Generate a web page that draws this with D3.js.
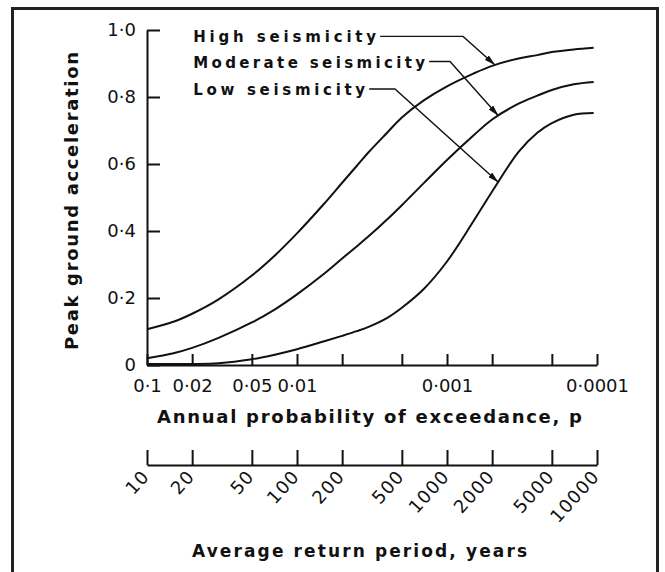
<!DOCTYPE html>
<html>
<head>
<meta charset="utf-8">
<script src="https://cdn.jsdelivr.net/npm/d3@7"></script>
<style>
  body { margin: 0; background: #fff; }
  svg text { font-family: "DejaVu Sans", sans-serif; fill: #111; }
</style>
</head>
<body>
<div id="chart"></div>
<script>
// return periods (years) at which the curves were read
const returnPeriods = [10, 15, 20, 30, 50, 70, 100, 150, 200, 250, 300, 400, 500, 700, 1000, 1500, 2000, 3000, 4000, 5000, 7000, 9500];
const highPGA     = [0.107, 0.129, 0.153, 0.196, 0.267, 0.324, 0.393, 0.479, 0.544, 0.594, 0.635, 0.694, 0.739, 0.790, 0.832, 0.870, 0.893, 0.915, 0.925, 0.934, 0.942, 0.947];
const moderatePGA = [0.020, 0.035, 0.051, 0.081, 0.127, 0.164, 0.211, 0.271, 0.318, 0.354, 0.384, 0.435, 0.477, 0.543, 0.612, 0.685, 0.733, 0.780, 0.804, 0.821, 0.838, 0.845];
const lowPGA      = [0.003, 0.003, 0.003, 0.005, 0.017, 0.030, 0.047, 0.070, 0.087, 0.101, 0.114, 0.141, 0.171, 0.227, 0.309, 0.429, 0.518, 0.636, 0.693, 0.722, 0.747, 0.752];

// axis ticks
const pgaTicks = [0, 0.2, 0.4, 0.6, 0.8, 1.0];
const periodTicks = [10, 20, 50, 100, 200, 500, 1000, 2000, 5000, 10000];
const probLabels = {10: "0·1", 20: "0·02", 50: "0·05", 100: "0·01", 1000: "0·001", 10000: "0·0001"};

// labels and their leader lines
const seriesNames = ["High seismicity", "Moderate seismicity", "Low seismicity"];
const labelLevel  = [0.963, 0.888, 0.806];
const elbowPeriod = [1280, 1047, 450];
const tipPeriod   = [2090, 2200, 2200];

const width = 665;
const height = 572;

const svg = d3.select("#chart").append("svg")
    .attr("width", width)
    .attr("height", height);

const x = d3.scaleLog().domain([10, 10000]).range([147, 597]);
const y = d3.scaleLinear().domain([0, 1]).range([365, 30]);

// frame
svg.append("rect")
    .attr("x", 12.5).attr("y", 8.5)
    .attr("width", 645).attr("height", 580)
    .attr("fill", "none")
    .attr("stroke", "#222")
    .attr("stroke-width", 3);

svg.append("defs").append("marker")
    .attr("id", "arrow")
    .attr("markerUnits", "userSpaceOnUse")
    .attr("viewBox", "0 0 11 6")
    .attr("refX", 11).attr("refY", 3)
    .attr("markerWidth", 11).attr("markerHeight", 6)
    .attr("orient", "auto")
    .append("path")
    .attr("d", "M0,0L11,3L0,6Z")
    .attr("fill", "#111");

const fmt = d => d === 0 ? "0" : d3.format(".1f")(d).replace(".", "·");

// y axis
const yAxis = svg.append("g")
    .attr("transform", `translate(${x(10)},0)`)
    .call(d3.axisLeft(y).tickValues(pgaTicks).tickSizeInner(-13).tickSizeOuter(0)
        .tickPadding(11).tickFormat(fmt));

// probability axis
const pAxis = svg.append("g")
    .attr("transform", `translate(0,${y(0)})`)
    .call(d3.axisBottom(x).tickValues(periodTicks).tickSizeInner(-11).tickSizeOuter(0)
        .tickPadding(14).tickFormat(d => probLabels[d] || ""));

// return period axis
const tAxis = svg.append("g")
    .attr("transform", "translate(0,465)")
    .call(d3.axisBottom(x).tickValues(periodTicks).tickSizeInner(-15).tickSizeOuter(0)
        .tickFormat(d => String(d)));

[yAxis, pAxis, tAxis].forEach(g => {
    g.selectAll("path, line").attr("stroke", "#111").attr("stroke-width", 2);
    g.selectAll("text").attr("font-size", 18).attr("font-family", "DejaVu Sans").attr("fill", "#111");
});

tAxis.selectAll(".tick text")
    .attr("text-anchor", "end")
    .attr("dy", null)
    .attr("y", null)
    .attr("letter-spacing", 1.2)
    .attr("transform", "translate(3,12) rotate(-48)");

// curves
const line = d3.line()
    .x(d => x(d[0]))
    .y(d => y(d[1]))
    .curve(d3.curveCatmullRom.alpha(0.5));

const seriesValues = [highPGA, moderatePGA, lowPGA];

svg.append("g").selectAll("path")
    .data(seriesValues)
    .enter().append("path")
    .attr("d", vals => line(returnPeriods.map((t, i) => [t, vals[i]])))
    .attr("fill", "none")
    .attr("stroke", "#111")
    .attr("stroke-width", 2);

// value of a series at a given period, read along the same log scale
function valueAt(vals, t) {
    const lt = Math.log10(t);
    for (let i = 1; i < returnPeriods.length; i++) {
        const a = Math.log10(returnPeriods[i - 1]), b = Math.log10(returnPeriods[i]);
        if (lt <= b) return vals[i - 1] + (vals[i] - vals[i - 1]) * (lt - a) / (b - a);
    }
    return vals[vals.length - 1];
}

// labels with leaders
const labelLengths = [183, 232, 172];
seriesNames.forEach((name, i) => {
    const x0 = x(20) + 1;
    const yb = y(labelLevel[i]);
    svg.append("text")
        .attr("x", x0).attr("y", yb)
        .attr("font-size", 15)
        .attr("font-weight", "bold")
        .attr("textLength", labelLengths[i])
        .attr("lengthAdjust", "spacing")
        .text(name);

    const tip = [x(tipPeriod[i]), y(valueAt(seriesValues[i], tipPeriod[i]))];
    svg.append("path")
        .attr("d", `M${x0 + labelLengths[i] + 4},${yb - 6}H${x(elbowPeriod[i])}L${tip[0]},${tip[1]}`)
        .attr("fill", "none")
        .attr("stroke", "#111")
        .attr("stroke-width", 1.4)
        .attr("marker-end", "url(#arrow)");
});

// axis titles
svg.append("text")
    .attr("x", 157).attr("y", 423)
    .attr("font-size", 18)
    .attr("font-weight", "bold")
    .attr("textLength", 425)
    .attr("lengthAdjust", "spacing")
    .text("Annual probability of exceedance, p");

svg.append("text")
    .attr("x", 192).attr("y", 557)
    .attr("font-size", 17)
    .attr("font-weight", "bold")
    .attr("textLength", 335)
    .attr("lengthAdjust", "spacing")
    .text("Average return period, years");

svg.append("text")
    .attr("transform", "translate(78,201) rotate(-90)")
    .attr("text-anchor", "middle")
    .attr("font-size", 18)
    .attr("font-weight", "bold")
    .attr("textLength", 298)
    .attr("lengthAdjust", "spacing")
    .text("Peak ground acceleration");
</script>
</body>
</html>
